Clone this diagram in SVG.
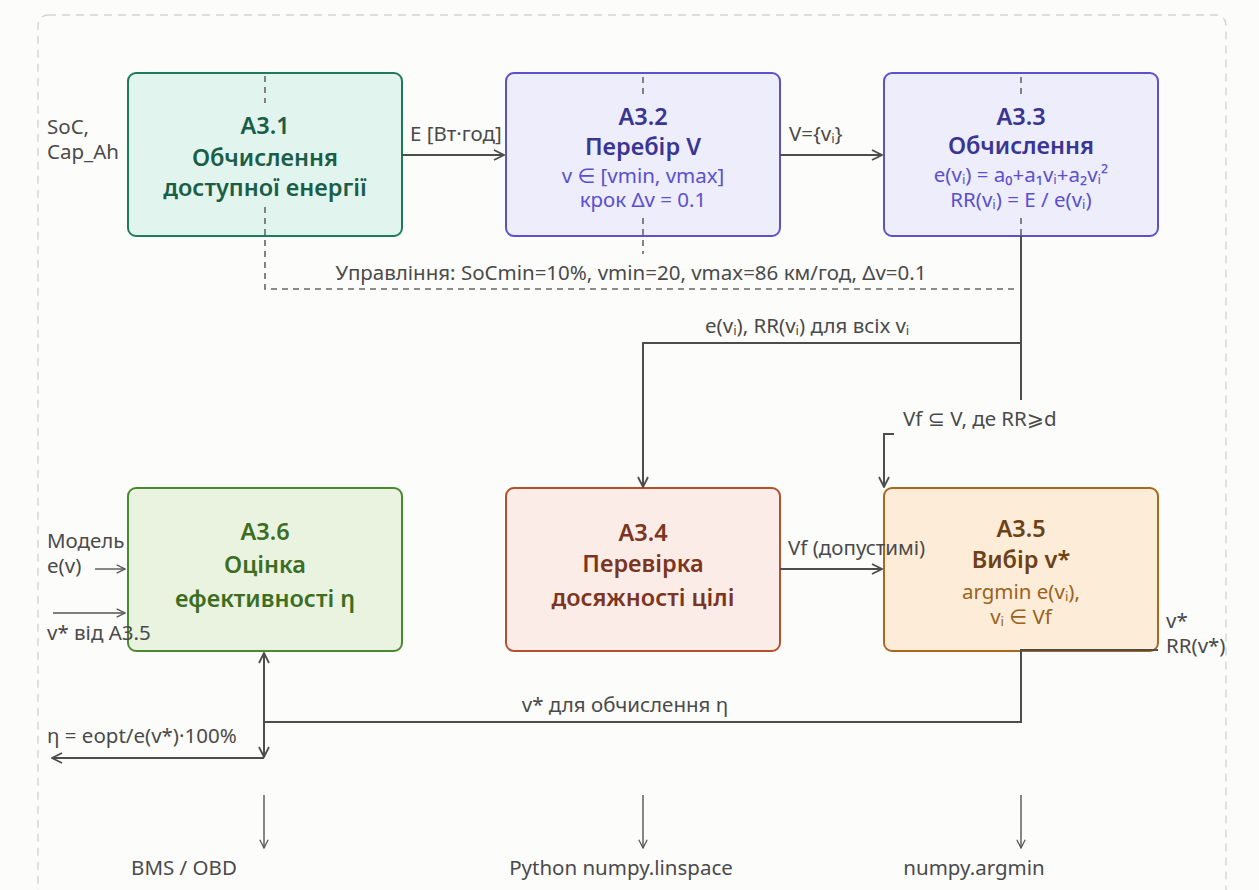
<svg xmlns="http://www.w3.org/2000/svg" width="1259" height="890" viewBox="0 0 1259 890">
  <defs>
    <style>
      text { font-family: "Noto Sans", "DejaVu Sans", "Liberation Sans", sans-serif; }
      .lbl { font-size: 20.5px; fill: #4a4a4a; }
      .ttl { font-size: 23.5px; font-weight: 600; text-anchor: middle; }
      .sub { font-size: 20.5px; text-anchor: middle; }
      .box { stroke-width: 2; }
      .wire { fill: none; stroke: #4d4d4d; stroke-width: 2; }
      .thin { fill: none; stroke: #555; stroke-width: 1.4; }
      .ctl { fill: none; stroke: #666; stroke-width: 1.6; stroke-dasharray: 6 5; }
      .g1 rect { fill: #e2f4ee; stroke: #1e7a5c; } .g1 text { fill: #1b5e48; }
      .g2 rect { fill: #ededfc; stroke: #5b52c9; } .g2 .ttl { fill: #3a3592; } .g2 .sub { fill: #5b4fd0; }
      .g6 rect { fill: #e9f3e0; stroke: #4a8a2e; } .g6 text { fill: #3d6e1f; }
      .g4 rect { fill: #fbece8; stroke: #b4502d; } .g4 text { fill: #7b3520; }
      .g5 rect { fill: #fcecd8; stroke: #a8691f; } .g5 .ttl { fill: #6b4215; } .g5 .sub { fill: #9a6220; }
    </style>
    <marker id="ah" viewBox="0 0 12 12" refX="11" refY="6" markerWidth="12" markerHeight="12" markerUnits="userSpaceOnUse" orient="auto">
      <path d="M1,1 L11,6 L1,11" fill="none" stroke="#4d4d4d" stroke-width="1.8"/>
    </marker>
    <marker id="ahs" viewBox="0 0 12 12" refX="11" refY="6" markerWidth="10" markerHeight="10" markerUnits="userSpaceOnUse" orient="auto">
      <path d="M1,1 L11,6 L1,11" fill="none" stroke="#555" stroke-width="1.5"/>
    </marker>
  </defs>

  <rect width="1259" height="890" fill="#fcfcfb"/>
  <!-- frame -->
  <rect x="38" y="15" width="1188" height="910" rx="10" fill="none" stroke="#d4d4d4" stroke-width="1.4" stroke-dasharray="8 6"/>

  <!-- nodes -->
  <g id="a31" class="g1">
    <rect class="box" x="128" y="73" width="274" height="163" rx="8"/>
    <text class="ttl" x="265" y="134">A3.1</text>
    <text class="ttl" x="265" y="166">Обчислення</text>
    <text class="ttl" x="265" y="196">доступної енергії</text>
  </g>
  <g id="a32" class="g2">
    <rect class="box" x="506" y="73" width="274" height="163" rx="8"/>
    <text class="ttl" x="643" y="125">A3.2</text>
    <text class="ttl" x="643" y="155">Перебір V</text>
    <text class="sub" x="643" y="183">v ∈ [vmin, vmax]</text>
    <text class="sub" x="643" y="207">крок Δv = 0.1</text>
  </g>
  <g id="a33" class="g2">
    <rect class="box" x="884" y="73" width="274" height="163" rx="8"/>
    <text class="ttl" x="1021" y="125">A3.3</text>
    <text class="ttl" x="1021" y="154">Обчислення</text>
    <text class="sub" x="1021" y="182">e(vᵢ) = a₀+a₁vᵢ+a₂vᵢ²</text>
    <text class="sub" x="1021" y="207">RR(vᵢ) = E / e(vᵢ)</text>
  </g>
  <g id="a36" class="g6">
    <rect class="box" x="128" y="488" width="274" height="163" rx="8"/>
    <text class="ttl" x="265" y="540">A3.6</text>
    <text class="ttl" x="265" y="573">Оцінка</text>
    <text class="ttl" x="265" y="607">ефективності η</text>
  </g>
  <g id="a34" class="g4">
    <rect class="box" x="506" y="488" width="274" height="163" rx="8"/>
    <text class="ttl" x="643" y="541">A3.4</text>
    <text class="ttl" x="643" y="572">Перевірка</text>
    <text class="ttl" x="643" y="606">досяжності цілі</text>
  </g>
  <g id="a35" class="g5">
    <rect class="box" x="884" y="488" width="274" height="163" rx="8"/>
    <text class="ttl" x="1021" y="537">A3.5</text>
    <text class="ttl" x="1021" y="568">Вибір v*</text>
    <text class="sub" x="1021" y="599">argmin e(vᵢ),</text>
    <text class="sub" x="1021" y="624">vᵢ ∈ Vf</text>
  </g>

  <!-- connectors -->
  <g id="connectors">
    <!-- control (dashed) -->
    <path class="ctl" d="M265,76 V103 M265,207 V289 H1018"/>
    <path class="ctl" d="M643,77 V95 M643,218 V254"/>
    <path class="ctl" d="M1021,77 V94 M1021,218 V236"/>
    <text class="lbl" x="631" y="280" text-anchor="middle">Управління: SoCmin=10%, vmin=20, vmax=86 км/год, Δv=0.1</text>

    <!-- main flow -->
    <path class="wire" d="M402,155 H504" marker-end="url(#ah)"/>
    <text class="lbl" x="410" y="141">E [Вт·год]</text>

    <path class="wire" d="M780,155 H882" marker-end="url(#ah)"/>
    <text class="lbl" x="789" y="141">V={vᵢ}</text>

    <path class="wire" d="M1021,236 V400"/>
    <path class="wire" d="M1021,343 H643 V487" marker-end="url(#ah)"/>
    <text class="lbl" x="705" y="333">e(vᵢ), RR(vᵢ) для всіх vᵢ</text>

    <path class="wire" d="M894,434 H884 V487" marker-end="url(#ah)"/>
    <text class="lbl" x="903" y="426">Vf ⊆ V, де RR⩾d</text>

    <path class="wire" d="M780,569 H882" marker-end="url(#ah)"/>
    <text class="lbl" x="788" y="555">Vf (допустимі)</text>

    <!-- A3.5 output -->
    <path class="wire" d="M1158,650 H1021 V722 H264"/>
    <text class="lbl" x="625" y="712" text-anchor="middle">v* для обчислення η</text>
    <text class="lbl" x="1166" y="628">v*</text>
    <text class="lbl" x="1166" y="653">RR(v*)</text>

    <path class="wire" d="M264,722 V653" marker-end="url(#ah)"/>
    <path class="wire" d="M264,722 V757" marker-end="url(#ah)"/>
    <path class="wire" d="M264,758 H52" marker-end="url(#ah)"/>
    <text class="lbl" x="47" y="743">η = eopt/e(v*)·100%</text>

    <!-- inputs -->
    <text class="lbl" x="47" y="134">SoC,</text>
    <text class="lbl" x="47" y="159">Cap_Ah</text>

    <text class="lbl" x="47" y="548">Модель</text>
    <text class="lbl" x="47" y="573">e(v)</text>
    <path class="thin" d="M95,569 H125" marker-end="url(#ahs)"/>
    <path class="thin" d="M53,613 H125" marker-end="url(#ahs)"/>
    <text class="lbl" x="47" y="640">v* від A3.5</text>

    <!-- mechanisms -->
    <path class="thin" d="M264,795 V848" marker-end="url(#ahs)"/>
    <path class="thin" d="M643,795 V848" marker-end="url(#ahs)"/>
    <path class="thin" d="M1021,795 V848" marker-end="url(#ahs)"/>
    <text class="lbl" x="184" y="875" text-anchor="middle">BMS / OBD</text>
    <text class="lbl" x="621" y="875" text-anchor="middle">Python numpy.linspace</text>
    <text class="lbl" x="974" y="875" text-anchor="middle">numpy.argmin</text>
  </g>
</svg>
